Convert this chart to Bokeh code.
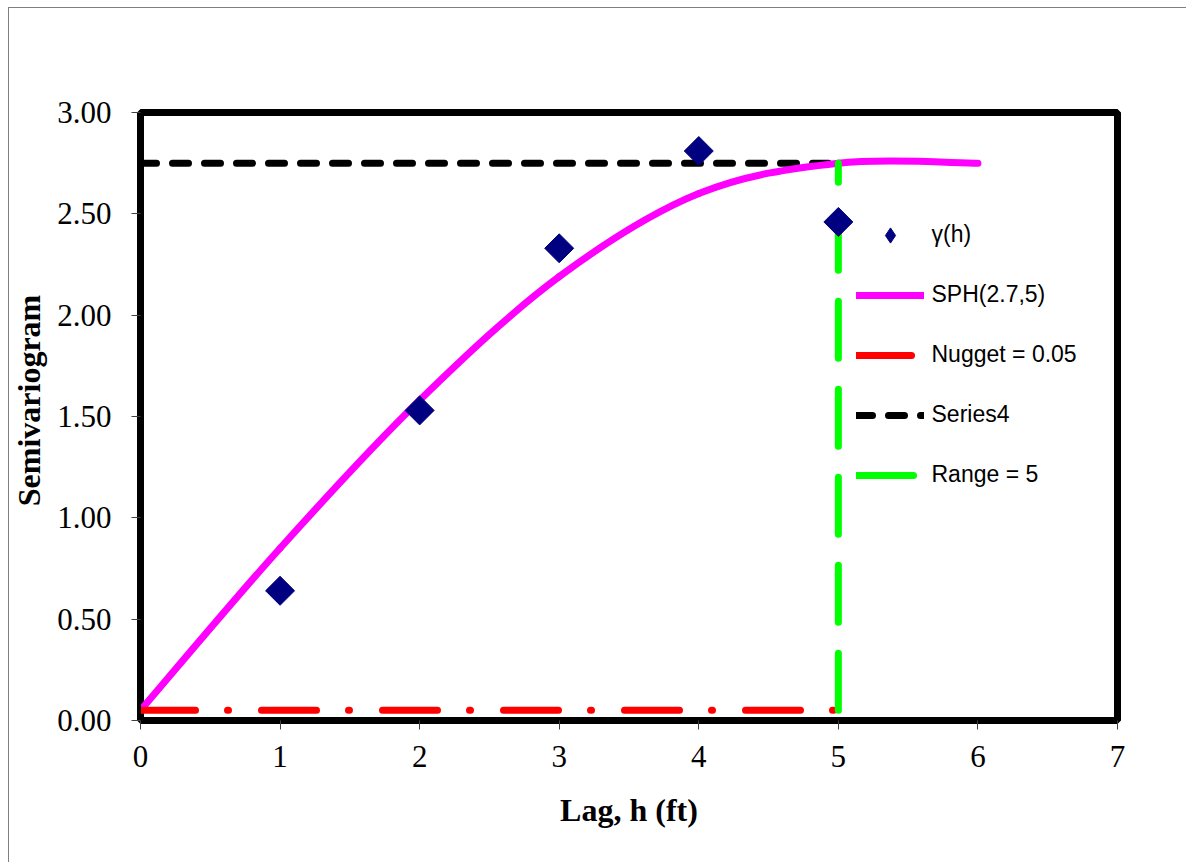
import numpy as np
from bokeh.plotting import figure
from bokeh.models import (Range1d, FixedTicker, NumeralTickFormatter, Legend, LegendItem,
                          ColumnDataSource, InlineStyleSheet)
from bokeh.embed import file_html
from bokeh.resources import INLINE

# ---- data ----
lag_obs = [1, 2, 3, 4, 5]
gamma_obs = [0.64, 1.53, 2.33, 2.81, 2.46]

lag_model = [0, 1, 2, 3, 4, 5, 6]
gamma_model = [0.05, 0.85, 1.58, 2.19, 2.60, 2.75, 2.75]

nugget_x = [0, 5]
nugget_y = [0.05, 0.05]

sill_x = [0, 5]
sill_y = [2.75, 2.75]

range_x = [5, 5]
range_y = [0.05, 2.75]

x_ticks = [0, 1, 2, 3, 4, 5, 6, 7]
y_ticks = [0.0, 0.5, 1.0, 1.5, 2.0, 2.5, 3.0]

# ---- figure ----
W, H = 1186, 862
p = figure(width=W, height=H, output_backend="svg", toolbar_location=None,
           x_range=Range1d(0, 7), y_range=Range1d(0, 3),
           min_border_left=140, min_border_right=69, min_border_top=112, min_border_bottom=142)
p.background_fill_color = "white"
p.border_fill_color = "white"
p.outline_line_color = "black"
p.outline_line_width = 7
p.xgrid.visible = False
p.ygrid.visible = False

serif = "Liberation Serif"
for ax in (p.xaxis[0], p.yaxis[0]):
    ax.axis_line_color = "black"
    ax.axis_line_width = 1
    ax.major_tick_line_color = "#404040"
    ax.major_tick_out = 9
    ax.major_tick_in = 0
    ax.minor_tick_line_color = None
    ax.major_label_text_font = serif
    ax.major_label_text_font_size = "31px"
    ax.major_label_text_color = "black"
    ax.axis_label_text_font = serif
    ax.axis_label_text_font_size = "32px"
    ax.axis_label_text_font_style = "bold"
    ax.axis_label_text_color = "black"

p.xaxis[0].ticker = FixedTicker(ticks=x_ticks)
p.xaxis[0].formatter = NumeralTickFormatter(format="0")
p.xaxis[0].axis_label = "Lag, h (ft)"
p.xaxis[0].major_label_standoff = 16
p.xaxis[0].axis_label_standoff = 22

p.yaxis[0].ticker = FixedTicker(ticks=y_ticks)
p.yaxis[0].formatter = NumeralTickFormatter(format="0.00")
p.yaxis[0].axis_label = "\u00a0\u00a0\u00a0\u00a0Semivariogram"
p.yaxis[0].major_label_standoff = 20
p.yaxis[0].axis_label_standoff = 7

# ---- smoothed model curve (Catmull-Rom bezier through model points) ----
mx = np.array(lag_model, dtype=float)
my = np.array(gamma_model, dtype=float)
px = np.concatenate([[mx[0]], mx, [mx[-1]]])
py = np.concatenate([[my[0]], my, [my[-1]]])
n = len(mx) - 1
x0 = mx[:-1]; y0 = my[:-1]; x1 = mx[1:]; y1 = my[1:]
cx0 = x0 + (px[2:n + 2] - px[0:n]) / 6.0
cy0 = y0 + (py[2:n + 2] - py[0:n]) / 6.0
cx1 = x1 - (px[3:n + 3] - px[1:n + 1]) / 6.0
cy1 = y1 - (py[3:n + 3] - py[1:n + 1]) / 6.0
bsrc = ColumnDataSource(dict(x0=x0, y0=y0, x1=x1, y1=y1, cx0=cx0, cy0=cy0, cx1=cx1, cy1=cy1))

r_sill = p.line(sill_x, sill_y, line_color="black", line_width=7, line_dash="16 16", line_cap="round")
r_sph = p.bezier(x0="x0", y0="y0", x1="x1", y1="y1", cx0="cx0", cy0="cy0", cx1="cx1", cy1="cy1",
                 source=bsrc, line_color="#FF00FF", line_width=7, line_cap="round")
r_nug = p.line(nugget_x, nugget_y, line_color="#FF0000", line_width=7, line_dash="55 32 1 33", line_cap="round")
r_rng = p.line(range_x, range_y, line_color="#00FF00", line_width=7, line_dash="57 31", line_cap="round")
# diamond-shaped key for the legend (drawn beneath the plotted markers, hidden by them)
r_obs_key = p.scatter(lag_obs, gamma_obs, marker="diamond", size=10,
                      fill_color="#000080", line_color="#000080")
r_obs = p.scatter(lag_obs, gamma_obs, marker="square", size=20.5, angle=np.pi / 4,
                  fill_color="#000080", line_color="#000080")

legend = Legend(items=[
    LegendItem(label="γ(h)", renderers=[r_obs_key]),
    LegendItem(label="SPH(2.7,5)", renderers=[r_sph]),
    LegendItem(label="Nugget = 0.05", renderers=[r_nug]),
    LegendItem(label="Series4", renderers=[r_sill]),
    LegendItem(label="Range = 5", renderers=[r_rng]),
], location=(715.5, 226.5))
legend.glyph_width = 68
legend.glyph_height = 38
legend.label_height = 38
legend.spacing = 22
legend.padding = 0
legend.margin = 0
legend.label_standoff = 8
legend.label_text_font = "Liberation Sans"
legend.label_text_font_size = "23px"
legend.label_text_color = "black"
legend.background_fill_alpha = 0
legend.border_line_alpha = 0
p.add_layout(legend, "center")

# outer chart border (left and top edges visible)
p.stylesheets = [InlineStyleSheet(css=(
    ":host::after { content: ''; position: absolute; left: 8px; top: 7px; "
    "width: 1178px; height: 855px; box-sizing: border-box; "
    "border-left: 1px solid #7f7f7f; border-top: 1px solid #7f7f7f; pointer-events: none; }"
))]

open("out.html", "w").write(file_html(p, INLINE))
